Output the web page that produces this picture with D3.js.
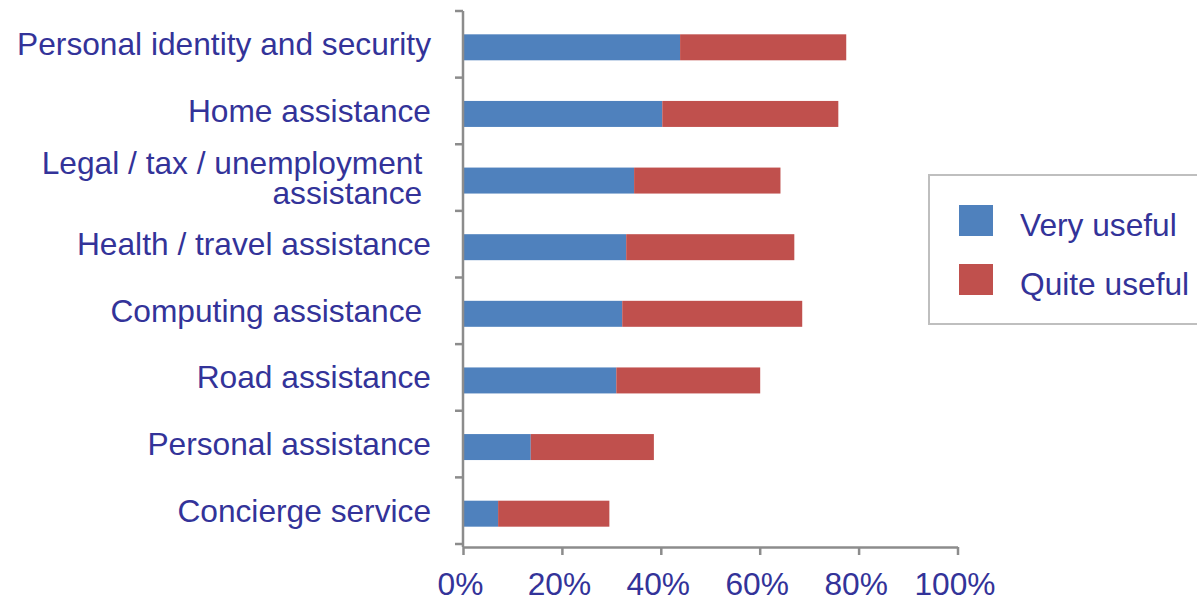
<!DOCTYPE html>
<html>
<head>
<meta charset="utf-8">
<title>Usefulness of services</title>
<script src="https://cdn.jsdelivr.net/npm/d3@7"></script>
<style>
  body { margin: 0; background: #fff; }
  text { font-family: "Liberation Sans", Arial, sans-serif; fill: #333399; white-space: pre; }
</style>
</head>
<body>
<svg id="chart" width="1197" height="598"></svg>
<script>
// categories, top to bottom; label lines split where the original wraps
var categories = [
  ["Personal identity and security"],
  ["Home assistance"],
  ["Legal / tax / unemployment ", "assistance "],
  ["Health / travel assistance"],
  ["Computing assistance "],
  ["Road assistance"],
  ["Personal assistance"],
  ["Concierge service"]
];
var veryUseful  = [43.9, 40.3, 34.6, 33.0, 32.2, 31.0, 13.7, 7.1];
var quiteUseful = [33.6, 35.6, 29.6, 34.0, 36.4, 29.1, 24.9, 22.5];
var xTicks = [0, 20, 40, 60, 80, 100];
var seriesNames = ["Very useful", "Quite useful"];
var colors = ["#4F81BD", "#C0504D"];

var fontSize = 31.7;
var svg = d3.select("#chart");

var x = d3.scaleLinear().domain([0, 100]).range([463, 957.5]);
var y = d3.scaleBand().domain(d3.range(categories.length)).range([11, 544]).paddingInner(0.61).paddingOuter(0.305);

// stacked rows
var rows = categories.map(function(c, i) {
  return { i: i, a: veryUseful[i], b: quiteUseful[i] };
});

var barOff = 3; // bars sit a little below the tick midpoints, as in the original
svg.append("g").selectAll("rect.very")
  .data(rows).enter().append("rect")
  .attr("x", x(0))
  .attr("y", function(d) { return y(d.i) + barOff; })
  .attr("width", function(d) { return x(d.a) - x(0); })
  .attr("height", y.bandwidth())
  .attr("fill", colors[0]);

svg.append("g").selectAll("rect.quite")
  .data(rows).enter().append("rect")
  .attr("x", function(d) { return x(d.a); })
  .attr("y", function(d) { return y(d.i) + barOff; })
  .attr("width", function(d) { return x(d.a + d.b) - x(d.a); })
  .attr("height", y.bandwidth())
  .attr("fill", colors[1]);

// y axis: line plus ticks between categories
var yTop = y.range()[0], step = y.step();
svg.append("line")
  .attr("x1", x(0)).attr("x2", x(0))
  .attr("y1", yTop).attr("y2", 547)
  .attr("stroke", "#8c8c8c").attr("stroke-width", 2.5);
svg.append("g").selectAll("line")
  .data(d3.range(categories.length + 1)).enter().append("line")
  .attr("x1", x(0) - 8).attr("x2", x(0))
  .attr("y1", function(k) { return yTop + k * step; })
  .attr("y2", function(k) { return yTop + k * step; })
  .attr("stroke", "#8c8c8c").attr("stroke-width", 2.5);

// category labels
var lab = svg.append("g").selectAll("text")
  .data(categories).enter().append("text")
  .attr("text-anchor", "end")
  .attr("font-size", fontSize)
  .attr("xml:space", "preserve");
lab.each(function(lines, i) {
  var cy = y(i) + y.bandwidth() / 2;
  var lh = 30;
  var first = cy + 11 - (lines.length - 1) * lh / 2;
  d3.select(this).selectAll("tspan")
    .data(lines).enter().append("tspan")
    .attr("x", 431)
    .attr("y", function(l, j) { return first + j * lh; })
    .text(function(l) { return l; });
});

// x axis
var xAxis = svg.append("g")
  .attr("transform", "translate(0,547)")
  .call(d3.axisBottom(x).tickValues(xTicks).tickSize(8).tickSizeOuter(0)
    .tickFormat(function(d) { return d + "%"; }));
xAxis.select(".domain").attr("stroke", "#8c8c8c").attr("stroke-width", 2.5);
xAxis.selectAll(".tick line").attr("stroke", "#8c8c8c").attr("stroke-width", 2.5);
xAxis.selectAll(".tick text")
  .attr("y", 0).attr("dy", null)
  .attr("transform", "translate(-3,48)")
  .attr("font-size", fontSize)
  .attr("font-family", null)
  .attr("fill", "#333399");
xAxis.attr("font-family", null).attr("font-size", null);

// legend
var legend = svg.append("g");
legend.append("rect")
  .attr("x", 929).attr("y", 175).attr("width", 290).attr("height", 149)
  .attr("fill", "#fff").attr("stroke", "#bfbfbf").attr("stroke-width", 2);
var items = legend.selectAll("g.item")
  .data(seriesNames).enter().append("g")
  .attr("transform", function(d, i) { return "translate(959," + (205 + i * 59) + ")"; });
items.append("rect")
  .attr("width", 34).attr("height", 31)
  .attr("fill", function(d, i) { return colors[i]; });
items.append("text")
  .attr("x", 61).attr("y", 31)
  .attr("font-size", fontSize)
  .text(function(d) { return d; });
</script>
</body>
</html>
